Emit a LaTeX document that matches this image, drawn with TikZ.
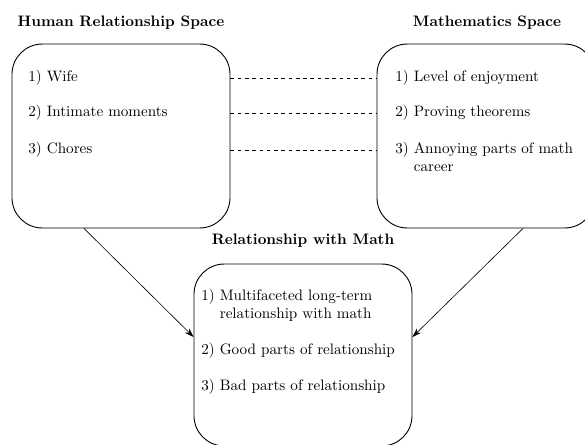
\documentclass[tikz,border=0pt]{standalone}
\usetikzlibrary{calc,arrows.meta}
\begin{document}
\begin{tikzpicture}[x=0.66pt,y=-0.66pt,
  space/.style={draw,semithick,rectangle,rounded corners=20pt,minimum width=143.9pt,minimum height=121.4pt,inner sep=0pt},
  title/.style={font=\bfseries,inner sep=0pt},
  item/.style={anchor=west,align=left,inner sep=0pt},
  link/.style={dash pattern=on 2.4pt off 2.4pt},
  flow/.style={-{Stealth[length=6pt,width=4pt]}}]
\clip (0,0) rectangle (585,444);
\node[space] (L) at (121,136) {};
\node[space] (R) at (486,136) {};
\node[space,minimum height=120.1pt] (B) at (303,355) {};
\node[title] (tL) at (121,23) {Human Relationship Space};
\node[title] (tR) at (487,23) {Mathematics Space};
\node[title] (tB) at (303,241) {Relationship with Math};
\node[item] (l1) at (28,78) {1) Wife};
\node[item] (l2) at (28,113) {2) Intimate moments};
\node[item] (l3) at (28,150) {3) Chores};
\node[item] (r1) at (395,78) {1) Level of enjoyment};
\node[item] (r2) at (395,113) {2) Proving theorems};
\node[item] (r3) at (395,159) {3) Annoying parts of math\\\phantom{3) }career};
\node[item] (b1) at (201,306) {1) Multifaceted long-term\\\phantom{1) }relationship with math};
\node[item] (b2) at (201,351) {2) Good parts of relationship};
\node[item] (b3) at (201,387) {3) Bad parts of relationship};
\draw[link] (L.east |- l1) -- (R.west |- l1);
\draw[link] (L.east |- l2) -- (R.west |- l2);
\draw[link] (L.east |- l3.west) -- (R.west |- l3.west);
\draw[flow] ($(L.south)+(-37,0)$) -- ($(B.west)+(0,-18)$);
\draw[flow] ($(R.south)+(37,0)$) -- ($(B.east)+(0,-18)$);
\end{tikzpicture}
\end{document}
